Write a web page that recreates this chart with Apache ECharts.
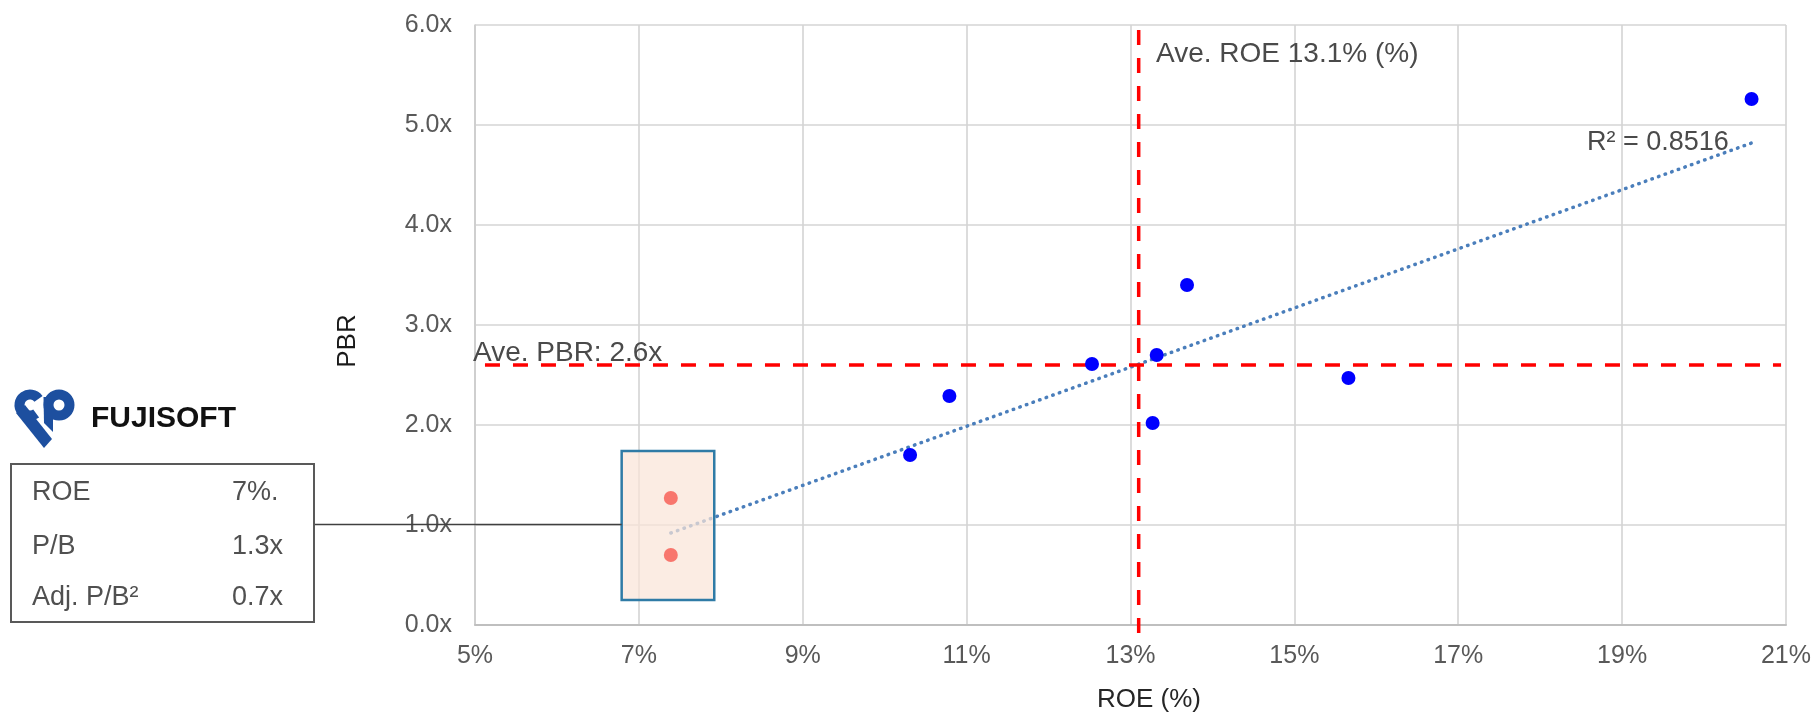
<!DOCTYPE html>
<html>
<head>
<meta charset="utf-8">
<script src="https://cdn.jsdelivr.net/npm/echarts@6/dist/echarts.min.js"></script>
<style>
  html, body { margin: 0; padding: 0; background: #ffffff; }
  #chart { width: 1814px; height: 713px; }
</style>
</head>
<body>
<div id="chart"></div>
<script>
// Peer companies: ROE (%) and P/B (x)
const peerRoe = [10.31, 10.79, 12.53, 13.27, 13.32, 13.69, 15.66, 20.58];
const peerPbr = [1.70, 2.29, 2.61, 2.02, 2.70, 3.40, 2.47, 5.26];

// FUJISOFT: ROE, then P/B and adjusted P/B
const fujiRoe = 7.39;
const fujiPbr = [1.27, 0.70];

// Group averages
const avgRoe = 13.1;
const avgPbr = 2.6;

// Linear trend line (end points) and its fit
const trendRoe = [7.39, 20.58];
const trendPbr = [0.92, 4.82];
const trendR2 = 0.8516;

// Axis ranges
const xMin = 5, xMax = 21, xStep = 2;
const yMin = 0, yMax = 6, yStep = 1;

// Extents of the dashed average guides and the highlight box (data units)
const hGuideX = [4.78, 20.94];
const vGuideY = [-0.08, 5.95];
const boxRoe = [6.79, 7.92];
const boxPbr = [0.25, 1.74];

const FONT = '"Liberation Sans", Arial, sans-serif';
const BLUE_LOGO = '#1d4f9f';

const chart = echarts.init(document.getElementById('chart'), null, { renderer: 'canvas' });

const option = {
  backgroundColor: '#ffffff',
  animation: false,
  grid: { left: 475, right: 28, top: 25, bottom: 88, containLabel: false },
  xAxis: {
    type: 'value',
    min: xMin, max: xMax, interval: xStep,
    axisLine: { show: true, lineStyle: { color: '#bfbfbf', width: 2 } },
    axisTick: { show: false },
    axisLabel: {
      margin: 19, color: '#595959', fontSize: 25, fontFamily: FONT,
      formatter: v => v + '%'
    },
    splitLine: { show: true, lineStyle: { color: '#d4d4d4', width: 1.6 } }
  },
  yAxis: {
    type: 'value',
    min: yMin, max: yMax, interval: yStep,
    axisLine: { show: true, lineStyle: { color: '#cccccc', width: 1.6 } },
    axisTick: { show: false },
    axisLabel: {
      margin: 23, color: '#595959', fontSize: 25, fontFamily: FONT,
      formatter: v => v.toFixed(1) + 'x'
    },
    splitLine: { show: true, lineStyle: { color: '#d4d4d4', width: 1.6 } }
  },
  series: [
    {
      // dotted linear trend
      type: 'line', z: 2, clip: false, symbol: 'none', silent: true,
      data: trendRoe.map((r, i) => [r, trendPbr[i]]),
      lineStyle: { color: '#4a7ebb', width: 3.5, type: [0.5, 6.5], cap: 'round' }
    },
    {
      // average P/B guide
      type: 'line', z: 3, clip: false, symbol: 'none', silent: true,
      data: hGuideX.map(x => [x, avgPbr]),
      lineStyle: { color: '#ff0000', width: 3.5, type: [15, 13] }
    },
    {
      // average ROE guide
      type: 'line', z: 3, clip: false, symbol: 'none', silent: true,
      data: vGuideY.map(y => [avgRoe, y]),
      lineStyle: { color: '#ff0000', width: 3.5, type: [15, 13] }
    },
    {
      // highlight box around FUJISOFT
      type: 'custom', z: 4, silent: true,
      data: [[boxRoe[0], boxPbr[1], boxRoe[1], boxPbr[0]]],
      encode: { x: [0, 2], y: [1, 3] },
      renderItem: function (params, api) {
        const p0 = api.coord([api.value(0), api.value(1)]);
        const p1 = api.coord([api.value(2), api.value(3)]);
        return {
          type: 'rect',
          shape: { x: p0[0], y: p0[1], width: p1[0] - p0[0], height: p1[1] - p0[1] },
          style: { fill: 'rgba(249,229,216,0.72)', stroke: '#2f7ba6', lineWidth: 2.5 }
        };
      }
    },
    {
      // peers
      type: 'scatter', z: 5, symbol: 'circle', symbolSize: 14,
      data: peerRoe.map((r, i) => [r, peerPbr[i]]),
      itemStyle: { color: '#0000ff', opacity: 1 }
    },
    {
      // FUJISOFT
      type: 'scatter', z: 6, symbol: 'circle', symbolSize: 14,
      data: fujiPbr.map(p => [fujiRoe, p]),
      itemStyle: { color: '#f8766d', opacity: 1 }
    }
  ],
  graphic: []
};

chart.setOption(option);

// Annotations, axis titles, company logo and summary table
const txt = (text, x, y, size, fill, opts) => {
  opts = opts || {};
  const align = opts.align || 'left';
  return {
    type: 'text', x: x, y: y, z: 100, silent: true,
    rotation: opts.rotation || 0,
    style: {
      text: text, fill: fill, font: (opts.weight ? opts.weight + ' ' : '') + size + 'px ' + FONT,
      align: align, verticalAlign: 'middle',
      textAlign: align, textVerticalAlign: 'middle'
    }
  };
};

const boxLeft = chart.convertToPixel({ gridIndex: 0 }, [boxRoe[0], 1.0]);
const connectorY = Math.round(boxLeft[1]) - 0.5;

const graphics = [
  // axis titles
  txt('ROE (%)', 1149, 700, 26, '#262626', { align: 'center' }),
  txt('PBR', 348, 341, 26, '#1a1a1a', { align: 'center', rotation: Math.PI / 2 }),

  // guide labels
  txt('Ave. ROE ' + avgRoe.toFixed(1) + '% (%)', 1156, 54, 28, '#4a4a4a'),
  txt('Ave. PBR: ' + avgPbr.toFixed(1) + 'x', 473, 353, 28, '#4a4a4a'),
  txt('R² = ' + trendR2.toFixed(4), 1587, 143, 27, '#4a4a4a'),

  // connector from table to highlight box
  {
    type: 'line', z: 100, silent: true,
    shape: { x1: 314, y1: connectorY, x2: boxLeft[0], y2: connectorY },
    style: { stroke: '#404040', lineWidth: 1.3 }
  },

  // summary table
  {
    type: 'rect', z: 100, silent: true,
    shape: { x: 11, y: 464, width: 303, height: 158 },
    style: { fill: '#ffffff', stroke: '#595959', lineWidth: 2 }
  },
  txt('ROE', 32, 493, 27, '#505050'),
  txt('P/B', 32, 547, 27, '#505050'),
  txt('Adj. P/B²', 32, 598, 27, '#505050'),
  txt(Math.round(fujiRoe) + '%.', 232, 493, 27, '#505050'),
  txt(fujiPbr[0].toFixed(1) + 'x', 232, 547, 27, '#505050'),
  txt(fujiPbr[1].toFixed(1) + 'x', 232, 598, 27, '#505050'),

  // logo mark
  {
    type: 'sector', z: 100, silent: true,
    shape: { cx: 30, cy: 405, r: 15.5, r0: 5.5, startAngle: Math.PI * 0.3, endAngle: Math.PI * 1.8, clockwise: true },
    style: { fill: BLUE_LOGO }
  },
  {
    type: 'ring', z: 100, silent: true,
    shape: { cx: 59, cy: 405, r: 15.5, r0: 5.5 },
    style: { fill: BLUE_LOGO }
  },
  {
    type: 'polygon', z: 100, silent: true,
    shape: { points: [[16, 413], [25, 405], [52, 439], [44, 448]] },
    style: { fill: BLUE_LOGO }
  },
  {
    type: 'polygon', z: 100, silent: true,
    shape: { points: [[43.5, 397], [53, 397], [53, 432], [44, 423]] },
    style: { fill: BLUE_LOGO }
  },
  txt('FUJISOFT', 91, 419, 30, '#111111', { weight: 'bold' })
];

chart.setOption({ graphic: graphics });
</script>
</body>
</html>
